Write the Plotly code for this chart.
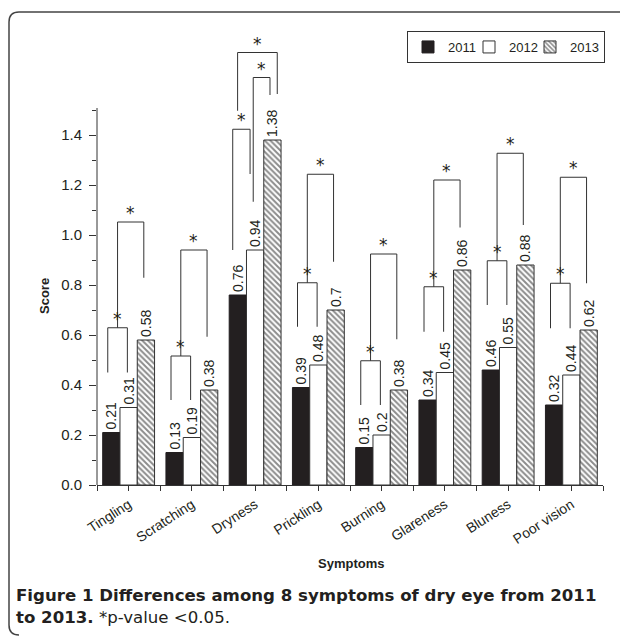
import plotly.graph_objects as go

# ---------------- data ----------------
symptoms = ["Tingling", "Scratching", "Dryness", "Prickling", "Burning",
            "Glareness", "Bluness", "Poor vision"]
years = ["2011", "2012", "2013"]
score_2011 = [0.21, 0.13, 0.76, 0.39, 0.15, 0.34, 0.46, 0.32]
score_2012 = [0.31, 0.19, 0.94, 0.48, 0.2, 0.45, 0.55, 0.44]
score_2013 = [0.58, 0.38, 1.38, 0.7, 0.38, 0.86, 0.88, 0.62]
y_tick_values = [0.0, 0.2, 0.4, 0.6, 0.8, 1.0, 1.2, 1.4]
y_tick_labels = ["0.0", "0.2", "0.4", "0.6", "0.8", "1.0", "1.2", "1.4"]

# significance brackets (score units)
# inner bracket: 2011 vs 2012 ; outer bracket: (2011/2012) vs 2013
inner_top = [0.629, 0.516, None, 0.809, 0.497, 0.793, 0.897, 0.807]
inner_leg_bottom = [0.45, 0.34, None, 0.633, 0.32, 0.613, 0.72, 0.627]
outer_top = [1.052, 0.94, None, 1.243, 0.924, 1.22, 1.327, 1.231]
outer_right_bottom = [0.829, 0.593, None, 0.893, 0.583, 1.03, 1.04, 0.807]
# Dryness: three separate brackets (top, left-leg bottom, right-leg bottom)
dryness_pairs = [("2011", "2012"), ("2012", "2013"), ("2011", "2013")]
dryness_top = [1.423, 1.63, 1.73]
dryness_left_bottom = [0.94, 1.133, 1.497]
dryness_right_bottom = [1.244, 1.56, 1.564]

# ---------------- layout helpers ----------------
W, H = 620, 637
L, R, T, B = 97, 17, 35, 152
PW, PH = W - L - R, H - T - B


def px(x):
    return (x - L) / PW


def py(y):
    return (H - B - y) / PH


SANS = "Liberation Sans, Arial, sans-serif"
INK = "#231f20"
LINE = "#333333"
positions = list(range(len(symptoms)))

fig = go.Figure()
fig.add_trace(go.Bar(
    x=positions, y=score_2011, name=years[0], legendwidth=16,
    marker=dict(color=INK, line=dict(color=INK, width=1)),
    text=[str(v) for v in score_2011]))
fig.add_trace(go.Bar(
    x=positions, y=score_2012, name=years[1], legendwidth=16,
    marker=dict(color="white", line=dict(color=LINE, width=1)),
    text=[str(v) for v in score_2012]))
fig.add_trace(go.Bar(
    x=positions, y=score_2013, name=years[2],
    marker=dict(color="white", line=dict(color=LINE, width=1),
                pattern=dict(shape="\\", fgcolor="#1a1a1a", bgcolor="white",
                             size=4, solidity=0.5)),
    text=[str(v) for v in score_2013]))
fig.update_traces(textposition="outside", textangle=-90, constraintext="none",
                  cliponaxis=False, textfont=dict(family=SANS, size=14, color=INK))

# ---------------- brackets ----------------
shape_list = []
annos = []


def bracket(xl, xr, top, yl, yr):
    shape_list.append(dict(
        type="path", xref="x", yref="y",
        path=f"M {xl},{yl} L {xl},{top} L {xr},{top} L {xr},{yr}",
        line=dict(color=LINE, width=1)))
    annos.append(dict(x=(xl + xr) / 2, y=top, xref="x", yref="y", text="*",
                      showarrow=False, yanchor="bottom", yshift=-3,
                      font=dict(family="DejaVu Sans", size=17, color=INK)))


for i in positions:
    if inner_top[i] is None:
        continue
    il, ir = i - 0.33, i - 0.02
    bracket(il, ir, inner_top[i], inner_leg_bottom[i], inner_leg_bottom[i])
    bracket((il + ir) / 2, i + 0.24, outer_top[i], inner_top[i], outer_right_bottom[i])

dry = symptoms.index("Dryness")
dry_left = [-0.354, -0.03, -0.277]
dry_right = [-0.08, 0.235, 0.35]
for k in range(3):
    bracket(dry + dry_left[k], dry + dry_right[k], dryness_top[k],
            dryness_left_bottom[k], dryness_right_bottom[k])

# y axis line (only up to 1.5)
shape_list.append(dict(type="line", xref="paper", yref="y", x0=0, x1=0, y0=0, y1=1.508,
                       line=dict(color=LINE, width=1)))

# frame around figure (rounded corner)
r = 10
fx0, fy0, fy1 = 9, 12, 635
frame = (f"M {px(W + 5)},{py(fy0)} L {px(fx0 + r)},{py(fy0)} "
         f"Q {px(fx0)},{py(fy0)} {px(fx0)},{py(fy0 + r)} "
         f"L {px(fx0)},{py(fy1 - r)} Q {px(fx0)},{py(fy1)} {px(fx0 + r)},{py(fy1)}")
shape_list.append(dict(type="path", xref="paper", yref="paper", path=frame,
                       line=dict(color="#444444", width=1.5)))

# axis titles
annos.append(dict(x=px(44), y=py(296), xref="paper", yref="paper", text="<b>Score</b>",
                  textangle=-90, showarrow=False, xanchor="center", yanchor="middle",
                  font=dict(family=SANS, size=13, color=INK)))
annos.append(dict(x=px(351), y=py(563), xref="paper", yref="paper", text="<b>Symptoms</b>",
                  showarrow=False, xanchor="center", yanchor="middle",
                  font=dict(family=SANS, size=13, color=INK)))
# caption
annos.append(dict(x=px(14), y=py(584), xref="paper", yref="paper", xanchor="left",
                  yanchor="top", align="left", showarrow=False,
                  text="<b>Figure 1 Differences among 8 symptoms of dry eye from 2011</b><br>"
                       "<b>to 2013.</b> *p-value &lt;0.05.",
                  font=dict(family="DejaVu Sans", size=16.6, color=INK)))

fig.update_layout(
    width=W, height=H, margin=dict(l=L, r=R, t=T, b=B),
    plot_bgcolor="white", paper_bgcolor="white",
    barmode="group", bargap=0.18, bargroupgap=0,
    font=dict(family=SANS, size=14, color=INK),
    xaxis=dict(range=[-0.5, 7.5], tickmode="array", tickvals=positions, ticktext=symptoms,
               tickangle=-33, showline=True, linecolor=LINE, linewidth=1,
               ticks="outside", ticklen=5, tickcolor=LINE, showgrid=False, zeroline=False,
               tickfont=dict(family=SANS, size=14, color=INK),
               minor=dict(tickmode="array", tickvals=[p - 0.5 for p in positions] + [7.5],
                          ticks="outside", ticklen=5, tickcolor=LINE)),
    yaxis=dict(range=[0, 1.8], tickmode="array", tickvals=y_tick_values, ticktext=y_tick_labels,
               showline=False, ticks="outside", ticklen=7, tickcolor=LINE,
               ticklabelstandoff=4,
               showgrid=False, zeroline=False,
               tickfont=dict(family=SANS, size=15, color=INK),
               minor=dict(tickmode="array", tickvals=[0.1, 0.3, 0.5, 0.7, 0.9, 1.1, 1.3, 1.5],
                          ticks="outside", ticklen=4, tickcolor=LINE)),
    legend=dict(orientation="h", x=px(605), xanchor="right", y=py(31), yanchor="top",
                bordercolor=LINE, borderwidth=1, bgcolor="white",
                font=dict(family=SANS, size=13, color=INK), itemwidth=30,
                traceorder="normal"),
    shapes=shape_list, annotations=annos,
)

fig.write_html("out.html", config={"displayModeBar": False},
               post_script="document.body.style.margin='0px';")
